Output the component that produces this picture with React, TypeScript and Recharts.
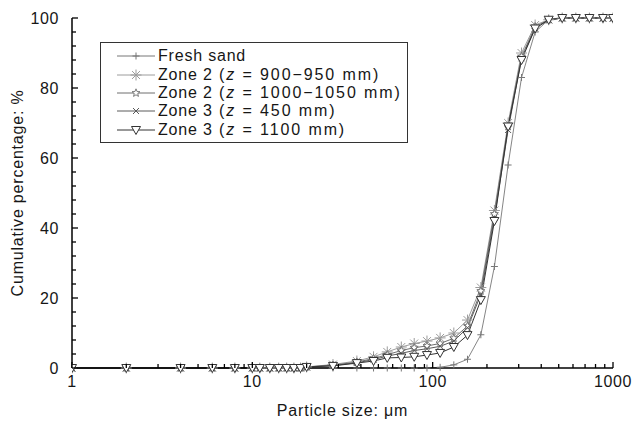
import React from 'react';
import { LineChart, Line, XAxis, YAxis, Legend } from 'recharts';

const sizes = [1, 2, 4, 6, 8, 10, 11, 12.5, 14, 15.5, 17, 18.5, 20, 28, 38, 47, 56, 67, 79, 93, 110, 131, 156, 185, 220, 262, 311, 370, 440, 523, 622, 740, 880, 1000];
const freshSand = [0, 0, 0, 0, 0, 0, 0, 0, 0, 0, 0, 0, 0, 0, 0, 0, 0, 0, 0, 0, 0.2, 0.9, 2.5, 9.5, 29, 58, 83, 96, 99.5, 100, 100, 100, 100, 100];
const zone2a = [0, 0, 0, 0, 0, 0, 0, 0, 0, 0, 0, 0, 0.3, 1, 2, 3.2, 4.6, 6, 7, 7.7, 8.6, 10, 13.7, 23, 45, 70, 90, 98, 99.5, 100, 100, 100, 100, 100];
const zone2b = [0, 0, 0, 0, 0, 0, 0, 0, 0, 0, 0, 0, 0.3, 0.8, 1.7, 2.7, 3.8, 5, 5.8, 6.3, 7, 8.5, 12, 22, 44, 69, 89, 97.5, 99.5, 100, 100, 100, 100, 100];
const zone3a = [0, 0, 0, 0, 0, 0, 0, 0, 0, 0, 0, 0, 0.3, 0.7, 1.5, 2.4, 3.4, 4.2, 5, 5.5, 6.2, 7.7, 11.5, 21, 43, 68, 88.5, 97, 99.5, 100, 100, 100, 100, 100];
const zone3b = [0, 0, 0, 0, 0, 0, 0, 0, 0, 0, 0, 0, 0.3, 0.6, 1.4, 2, 2.9, 3, 3.2, 3.7, 4.3, 6, 9.4, 19.4, 42, 69, 88, 97, 99.5, 100, 100, 100, 100, 100];

const xMajor = [1, 10, 100, 1000];
const xTicks = [1, 2, 3, 4, 5, 6, 7, 8, 9, 10, 20, 30, 40, 50, 60, 70, 80, 90, 100, 200, 300, 400, 500, 600, 700, 800, 900, 1000];
const yMajor = [0, 20, 40, 60, 80, 100];
const yTicks = [0, 4, 8, 12, 16, 20, 24, 28, 32, 36, 40, 44, 48, 52, 56, 60, 64, 68, 72, 76, 80, 84, 88, 92, 96, 100];

const seriesNames = ['Fresh sand', 'Zone 2', 'Zone 2', 'Zone 3', 'Zone 3'];
const seriesZ = ['', '900\u2212950 mm', '1000\u22121050 mm', '450 mm', '1100 mm'];

const data = sizes.map((s, i) => ({
  size: s,
  fresh: freshSand[i],
  z2a: zone2a[i],
  z2b: zone2b[i],
  z3a: zone3a[i],
  z3b: zone3b[i],
}));

const FONT = '"Liberation Sans", Arial, Helvetica, sans-serif';
const TEXT = '#161616';

type Kind = 'plus' | 'asterisk' | 'star' | 'cross' | 'tri';

function Marker({ kind, x, y, color }: { kind: Kind; x: number; y: number; color: string }) {
  if (kind === 'plus') {
    const r = 3.5;
    return <path d={`M${x - r},${y}H${x + r}M${x},${y - r}V${y + r}`} stroke={color} strokeWidth={1} fill="none" />;
  }
  if (kind === 'asterisk') {
    const r = 5.5;
    const d = r * 0.72;
    return (
      <path
        d={`M${x - r},${y}H${x + r}M${x},${y - r}V${y + r}M${x - d},${y - d}L${x + d},${y + d}M${x - d},${y + d}L${x + d},${y - d}`}
        stroke={color}
        strokeWidth={1}
        fill="none"
      />
    );
  }
  if (kind === 'star') {
    const pts: string[] = [];
    for (let k = 0; k < 10; k++) {
      const r = k % 2 === 0 ? 4.2 : 1.8;
      const a = -Math.PI / 2 + (k * Math.PI) / 5;
      pts.push(`${x + r * Math.cos(a)},${y + r * Math.sin(a)}`);
    }
    return <polygon points={pts.join(' ')} stroke={color} strokeWidth={0.9} fill="#fff" />;
  }
  if (kind === 'cross') {
    const r = 3;
    return <path d={`M${x - r},${y - r}L${x + r},${y + r}M${x - r},${y + r}L${x + r},${y - r}`} stroke={color} strokeWidth={1} fill="none" />;
  }
  return (
    <path d={`M${x - 4.5},${y - 3.5}L${x + 4.5},${y - 3.5}L${x},${y + 4.5}Z`} stroke={color} strokeWidth={1} fill="#fff" />
  );
}

const dotFn = (kind: Kind, color: string) => (p: any) => {
  const { cx, cy, index } = p;
  if (cx == null || cy == null) return <g key={`d${index}`} />;
  return (
    <g key={`d${index}`}>
      <Marker kind={kind} x={cx} y={cy} color={color} />
    </g>
  );
};

const series: { key: string; kind: Kind; color: string; width: number }[] = [
  { key: 'fresh', kind: 'plus', color: '#777', width: 0.9 },
  { key: 'z2a', kind: 'asterisk', color: '#9c9c9c', width: 1 },
  { key: 'z2b', kind: 'star', color: '#6e6e6e', width: 1 },
  { key: 'z3a', kind: 'cross', color: '#5a5a5a', width: 1 },
  { key: 'z3b', kind: 'tri', color: '#333', width: 1 },
];

const XTick = (props: any) => {
  const { x, y, payload } = props;
  const v = payload.value;
  const major = xMajor.includes(v);
  return (
    <g>
      <line x1={x} x2={x} y1={y} y2={y - (major ? 6 : 4)} stroke="#000" strokeWidth={1.3} />
      {major && (
        <text x={x} y={y + 19} textAnchor="middle" fontSize={16} fill={TEXT} fontFamily={FONT} letterSpacing={0.6}>
          {v}
        </text>
      )}
    </g>
  );
};

const YTick = (props: any) => {
  const { x, y, payload } = props;
  const v = payload.value;
  const major = yMajor.includes(v);
  return (
    <g>
      <line x1={x} x2={x + (major ? 6 : 4)} y1={y} y2={y} stroke="#000" strokeWidth={1.3} />
      {major && (
        <text x={x - 13} y={y + 6} textAnchor="end" fontSize={16} fill={TEXT} fontFamily={FONT} letterSpacing={0.6}>
          {v}
        </text>
      )}
    </g>
  );
};

const LegendBox = () => (
  <div
    style={{
      width: 308,
      height: 101,
      boxSizing: 'border-box',
      border: '1px solid #333',
      background: '#fff',
      paddingTop: 4,
      fontFamily: FONT,
      fontSize: 16,
      letterSpacing: 0.8,
      color: TEXT,
    }}
  >
    {series.map((s, i) => (
      <div key={s.key} style={{ height: 18.4, display: 'flex', alignItems: 'center', whiteSpace: 'nowrap' }}>
        <svg width={40} height={18} style={{ marginLeft: 16, flex: 'none' }}>
          <line x1={0} x2={38} y1={9} y2={9} stroke={s.color} strokeWidth={1} />
          <Marker kind={s.kind} x={19} y={9} color={s.color} />
        </svg>
        <span style={{ marginLeft: 1 }}>
          {seriesNames[i]}
          {seriesZ[i] && (
            <span style={{ letterSpacing: 1.9 }}>
              {' ('}
              <i>z</i>
              {' = '}
              {seriesZ[i]}
              {')'}
            </span>
          )}
        </span>
      </div>
    ))}
  </div>
);

export default function App() {
  return (
    <div style={{ position: 'absolute', left: 0, top: 0, width: 634, height: 421, background: '#fff', fontFamily: FONT }}>
      <LineChart width={634} height={421} data={data} margin={{ top: 18, right: 21, left: 0, bottom: 0 }}>
        <XAxis
          dataKey="size"
          type="number"
          scale="log"
          domain={[1, 1000]}
          allowDataOverflow
          ticks={xTicks}
          interval={0}
          tickSize={0}
          tickMargin={0}
          tickLine={false}
          tick={<XTick />}
          height={53}
          axisLine={{ stroke: '#000', strokeWidth: 1.5 }}
          label={{ value: 'Particle size: \u03bcm', position: 'insideBottom', offset: 5, fontSize: 16, fill: TEXT, fontFamily: FONT, letterSpacing: 0.8 } as any}
        />
        <YAxis
          type="number"
          domain={[0, 100]}
          ticks={yTicks}
          interval={0}
          tickSize={0}
          tickMargin={0}
          tickLine={false}
          tick={<YTick />}
          width={72}
          axisLine={{ stroke: '#000', strokeWidth: 1.5 }}
          label={{ value: 'Cumulative percentage: %', angle: -90, position: 'insideLeft', offset: 17, fontSize: 16, fill: TEXT, fontFamily: FONT, letterSpacing: 0.8, style: { textAnchor: 'middle' } } as any}
        />
        {series.map((s) => (
          <Line
            key={s.key}
            dataKey={s.key}
            type="linear"
            stroke={s.color}
            strokeWidth={s.width}
            dot={dotFn(s.kind, s.color)}
            activeDot={false}
            isAnimationActive={false}
          />
        ))}
        <Legend
          layout="vertical"
          align="center"
          verticalAlign="middle"
          content={() => <LegendBox />}
          wrapperStyle={{ left: 100, top: 42, width: 308, height: 101 }}
        />
      </LineChart>
    </div>
  );
}
